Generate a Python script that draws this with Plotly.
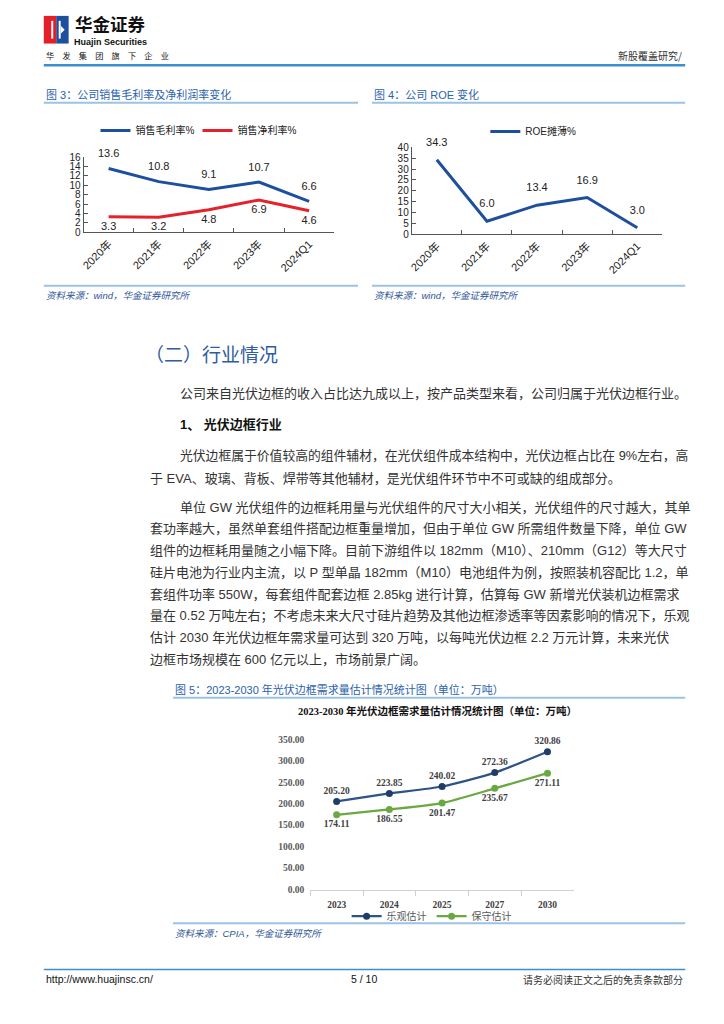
import plotly.graph_objects as go

# ---------------- data ----------------
periods = ["2020年", "2021年", "2022年", "2023年", "2024Q1"]
gross_margin = [13.6, 10.8, 9.1, 10.7, 6.6]
net_margin = [3.3, 3.2, 4.8, 6.9, 4.6]
roe = [34.3, 6.0, 13.4, 16.9, 3.0]

demand_years = ["2023", "2024", "2025", "2027", "2030"]
demand_optimistic = [205.20, 223.85, 240.02, 272.36, 320.86]
demand_conservative = [174.11, 186.55, 201.47, 235.67, 271.11]

para2 = [
    "光伏边框属于价值较高的组件辅材，在光伏组件成本结构中，光伏边框占比在 9%左右，高",
    "于 EVA、玻璃、背板、焊带等其他辅材，是光伏组件环节中不可或缺的组成部分。",
]
para3 = [
    "单位 GW 光伏组件的边框耗用量与光伏组件的尺寸大小相关，光伏组件的尺寸越大，其单",
    "套功率越大，虽然单套组件搭配边框重量增加，但由于单位 GW 所需组件数量下降，单位 GW",
    "组件的边框耗用量随之小幅下降。目前下游组件以 182mm（M10）、210mm（G12）等大尺寸",
    "硅片电池为行业内主流，以 P 型单晶 182mm（M10）电池组件为例，按照装机容配比 1.2，单",
    "套组件功率 550W，每套组件配套边框 2.85kg 进行计算，估算每 GW 新增光伏装机边框需求",
    "量在 0.52 万吨左右；不考虑未来大尺寸硅片趋势及其他边框渗透率等因素影响的情况下，乐观",
    "估计 2030 年光伏边框年需求量可达到 320 万吨，以每吨光伏边框 2.2 万元计算，未来光伏",
    "边框市场规模在 600 亿元以上，市场前景广阔。",
]

# ---------------- helpers ----------------
W, H = 724, 1024
SANS = "Liberation Sans, Arial, Noto Sans CJK SC"
SERIF = "Liberation Serif, Times New Roman, Noto Sans CJK SC"
BLUE_T = "#2b62ad"
LIGHT = "#9cc3e5"
CLEAR = "rgba(0,0,0,0)"


def fx(x):
    return x / W


def fy(y):
    return 1 - y / H


annotations = []
shapes = []


def txt(s, x, y, size=13, color="#333333", anchor="left", family=SANS, weight="normal", style="normal"):
    annotations.append(dict(
        text=s, x=fx(x), y=fy(y), xref="paper", yref="paper",
        xanchor=anchor, yanchor="middle", showarrow=False,
        font=dict(size=size, color=color, family=family, weight=weight, style=style),
    ))


def hline(x0, x1, y, color, width):
    shapes.append(dict(type="line", xref="paper", yref="paper",
                       x0=fx(x0), x1=fx(x1), y0=fy(y), y1=fy(y),
                       line=dict(color=color, width=width)))


def rect(x0, y0, x1, y1, color):
    shapes.append(dict(type="rect", xref="paper", yref="paper",
                       x0=fx(x0), x1=fx(x1), y0=fy(y0), y1=fy(y1),
                       line=dict(width=0), fillcolor=color))


fig = go.Figure()

# ---------------- chart 3 ----------------
fig.add_trace(go.Scatter(
    x=periods, y=gross_margin, mode="lines+markers+text", name="销售毛利率%",
    line=dict(color="#1d4f9e", width=3),
    marker=dict(size=12, color=CLEAR, line=dict(width=0)),
    text=[f"{v:.1f}" for v in gross_margin],
    textposition="top center", textfont=dict(size=11, color="#222", family=SANS),
    xaxis="x", yaxis="y", legend="legend", cliponaxis=False))
fig.add_trace(go.Scatter(
    x=periods, y=net_margin, mode="lines+markers+text", name="销售净利率%",
    line=dict(color="#e3222b", width=3),
    marker=dict(size=6, color=CLEAR, line=dict(width=0)),
    text=[f"{v:.1f}" for v in net_margin],
    textposition="bottom center", textfont=dict(size=11, color="#222", family=SANS),
    xaxis="x", yaxis="y", legend="legend", cliponaxis=False))

# ---------------- chart 4 ----------------
fig.add_trace(go.Scatter(
    x=periods, y=roe, mode="lines+markers+text", name="ROE摊薄%",
    line=dict(color="#1d4f9e", width=3),
    marker=dict(size=16, color=CLEAR, line=dict(width=0)),
    text=[f"{v:.1f}" for v in roe],
    textposition="top center", textfont=dict(size=11, color="#222", family=SANS),
    xaxis="x2", yaxis="y2", legend="legend2", cliponaxis=False))

# ---------------- chart 5 ----------------
fig.add_trace(go.Scatter(
    x=demand_years, y=demand_optimistic, mode="lines+markers+text", name="乐观估计",
    line=dict(color="#2d5486", width=2.2, shape="spline", smoothing=0.6),
    marker=dict(size=7, color="#1f3d68"),
    text=[f"{v:.2f}" for v in demand_optimistic], textposition="top center",
    textfont=dict(size=9.5, color="#404040", family=SERIF, weight="bold"),
    xaxis="x3", yaxis="y3", legend="legend3", cliponaxis=False))
fig.add_trace(go.Scatter(
    x=demand_years, y=demand_conservative, mode="lines+markers+text", name="保守估计",
    line=dict(color="#6aa842", width=2.2, shape="spline", smoothing=0.6),
    marker=dict(size=7, color="#6aa842"),
    text=[f"{v:.2f}" for v in demand_conservative], textposition="bottom center",
    textfont=dict(size=9.5, color="#404040", family=SERIF, weight="bold"),
    xaxis="x3", yaxis="y3", legend="legend3", cliponaxis=False))

axis_common = dict(showgrid=False, zeroline=False, showline=True, linecolor="#555555",
                   linewidth=1, ticks="inside", ticklen=4, tickcolor="#555555", fixedrange=True)
xfont = dict(size=11, color="#222", family=SANS)
yfont = dict(size=10, color="#222", family=SANS)

layout = dict(
    width=W, height=H, autosize=False,
    margin=dict(l=0, r=0, t=0, b=0),
    paper_bgcolor="white", plot_bgcolor="rgba(0,0,0,0)",
    font=dict(family=SANS, color="#222"),
    xaxis=dict(domain=[fx(80), fx(332)], anchor="y", type="category", tickfont=xfont,
               range=[-0.5, 4.5], tickson="boundaries", tickangle=-45, **axis_common),
    yaxis=dict(domain=[fy(229), fy(153)], anchor="x", range=[0, 16], dtick=2,
               autorange=False, tickfont=yfont, **axis_common),
    xaxis2=dict(domain=[fx(410), fx(662)], anchor="y2", type="category", tickfont=xfont,
                range=[-0.5, 4.5], tickson="boundaries", tickangle=-45, **axis_common),
    yaxis2=dict(domain=[fy(231), fy(143)], anchor="x2", range=[0, 40], dtick=5,
                autorange=False, tickfont=yfont, **axis_common),
    xaxis3=dict(domain=[fx(308), fx(573)], anchor="y3", type="category",
                range=[-0.5, 4.5], tickson="boundaries", showgrid=False, zeroline=False,
                showline=True, linecolor="#d0d0d0", ticks="outside", ticklen=5, tickcolor="#d0d0d0",
                ticklabelstandoff=6, fixedrange=True,
                tickfont=dict(size=9.5, color="#404040", family=SERIF, weight="bold")),
    yaxis3=dict(domain=[fy(894), fy(742)], anchor="x3", range=[0, 350], autorange=False,
                tickmode="linear", tick0=0, dtick=50, fixedrange=True,
                tickformat=".2f", showgrid=False, zeroline=False, showline=False, ticks="",
                ticklabelstandoff=5,
                tickfont=dict(size=9.5, color="#595959", family=SERIF, weight="bold")),
    legend=dict(orientation="h", x=fx(92), y=fy(126), xanchor="left", yanchor="middle",
                font=dict(size=10, color="#222", family=SANS), bgcolor="rgba(0,0,0,0)",
                entrywidth=57, entrywidthmode="pixels"),
    legend2=dict(orientation="h", x=fx(484), y=fy(127), xanchor="left", yanchor="middle",
                 font=dict(size=10, color="#222", family=SANS), bgcolor="rgba(0,0,0,0)"),
    legend3=dict(orientation="h", x=fx(430), y=fy(921), xanchor="center", yanchor="middle",
                 font=dict(size=10, color="#595959", family=SANS), bgcolor="rgba(0,0,0,0)"),
    showlegend=True,
)

# ---------------- page header ----------------
rect(40, 10, 52.5, 38, "#e3202a")
rect(52.5, 10, 65, 38, "#1e4f9c")
rect(47.5, 15, 49.5, 33, "white")
rect(55, 15, 57, 33, "white")
shapes.append(dict(type="path", xref="paper", yref="paper",
                   path=f"M {fx(57)} {fy(20)} L {fx(61)} {fy(24)} L {fx(57)} {fy(28)} Z",
                   fillcolor="white", line=dict(width=0)))
txt("华金证券", 69, 18, size=17.5, color="#111", family="Noto Sans CJK SC", weight="bold")
txt("Huajin Securities", 68, 36, size=9, color="#111", weight="bold")
txt("华\u3000发\u3000集\u3000团\u3000旗\u3000下\u3000企\u3000业", 40, 50, size=8.2, color="#111",
    family="Noto Sans CJK SC")
txt("新股覆盖研究/", 684, 50, size=10, color="#333", anchor="right", family="Noto Sans CJK SC")
hline(40, 685, 60, "#3b8ed0", 2.5)

# ---------------- chart captions ----------------
txt("图 3：公司销售毛利率及净利润率变化", 40, 90, size=11, color=BLUE_T)
hline(40, 356, 98, LIGHT, 2)
txt("图 4：公司 ROE 变化", 370, 90, size=11, color=BLUE_T)
hline(370, 685, 98, LIGHT, 2)
hline(40, 356, 283, LIGHT, 2)
hline(370, 685, 283, LIGHT, 2)
txt("资料来源：wind，华金证券研究所", 40, 293, size=9.5, color="#2f5597", style="italic")
txt("资料来源：wind，华金证券研究所", 370, 293, size=9.5, color="#2f5597", style="italic")

# ---------------- section text ----------------
txt("（二）行业情况", 140, 352, size=19, color="#2e5c9e", family="Noto Sans CJK SC")
txt("公司来自光伏边框的收入占比达九成以上，按产品类型来看，公司归属于光伏边框行业。", 175, 392, size=13, color="#333")
txt("1、 光伏边框行业", 175, 423, size=13, color="#111", weight="bold")
for i, line in enumerate(para2):
    txt(line, 175 if i == 0 else 145, 455 + 23 * i, size=12.8 if i == 0 else 13, color="#333")
for i, line in enumerate(para3):
    txt(line, 175 if i == 0 else 145, 507 + 22 * i, size=13, color="#333")

# ---------------- figure 5 captions ----------------
txt("图 5：2023-2030 年光伏边框需求量估计情况统计图（单位：万吨）", 170, 692, size=11, color=BLUE_T)
hline(170, 685, 700, LIGHT, 2)
txt("2023-2030 年光伏边框需求量估计情况统计图（单位：万吨）", 436, 713, size=10.5, color="#111",
    anchor="center", family=SERIF, weight="bold")
hline(170, 685, 928, LIGHT, 2)
txt("资料来源：CPIA，华金证券研究所", 170, 938, size=9.5, color="#2f5597", style="italic")

# ---------------- footer ----------------
hline(40, 685, 975, "#3b8ed0", 1.5)
txt("http://www.huajinsc.cn/", 40, 985, size=10.5, color="#111")
txt("5 / 10", 362, 985, size=10.5, color="#111", anchor="center")
txt("请务必阅读正文之后的免责条款部分", 685, 985, size=10, color="#333", anchor="right",
    family="Noto Sans CJK SC")

layout["annotations"] = annotations
layout["shapes"] = shapes
fig.update_layout(**layout)
fig.write_html("out.html", config={"displayModeBar": False},
               post_script="document.body.style.margin='0';document.body.style.overflow='hidden';")
